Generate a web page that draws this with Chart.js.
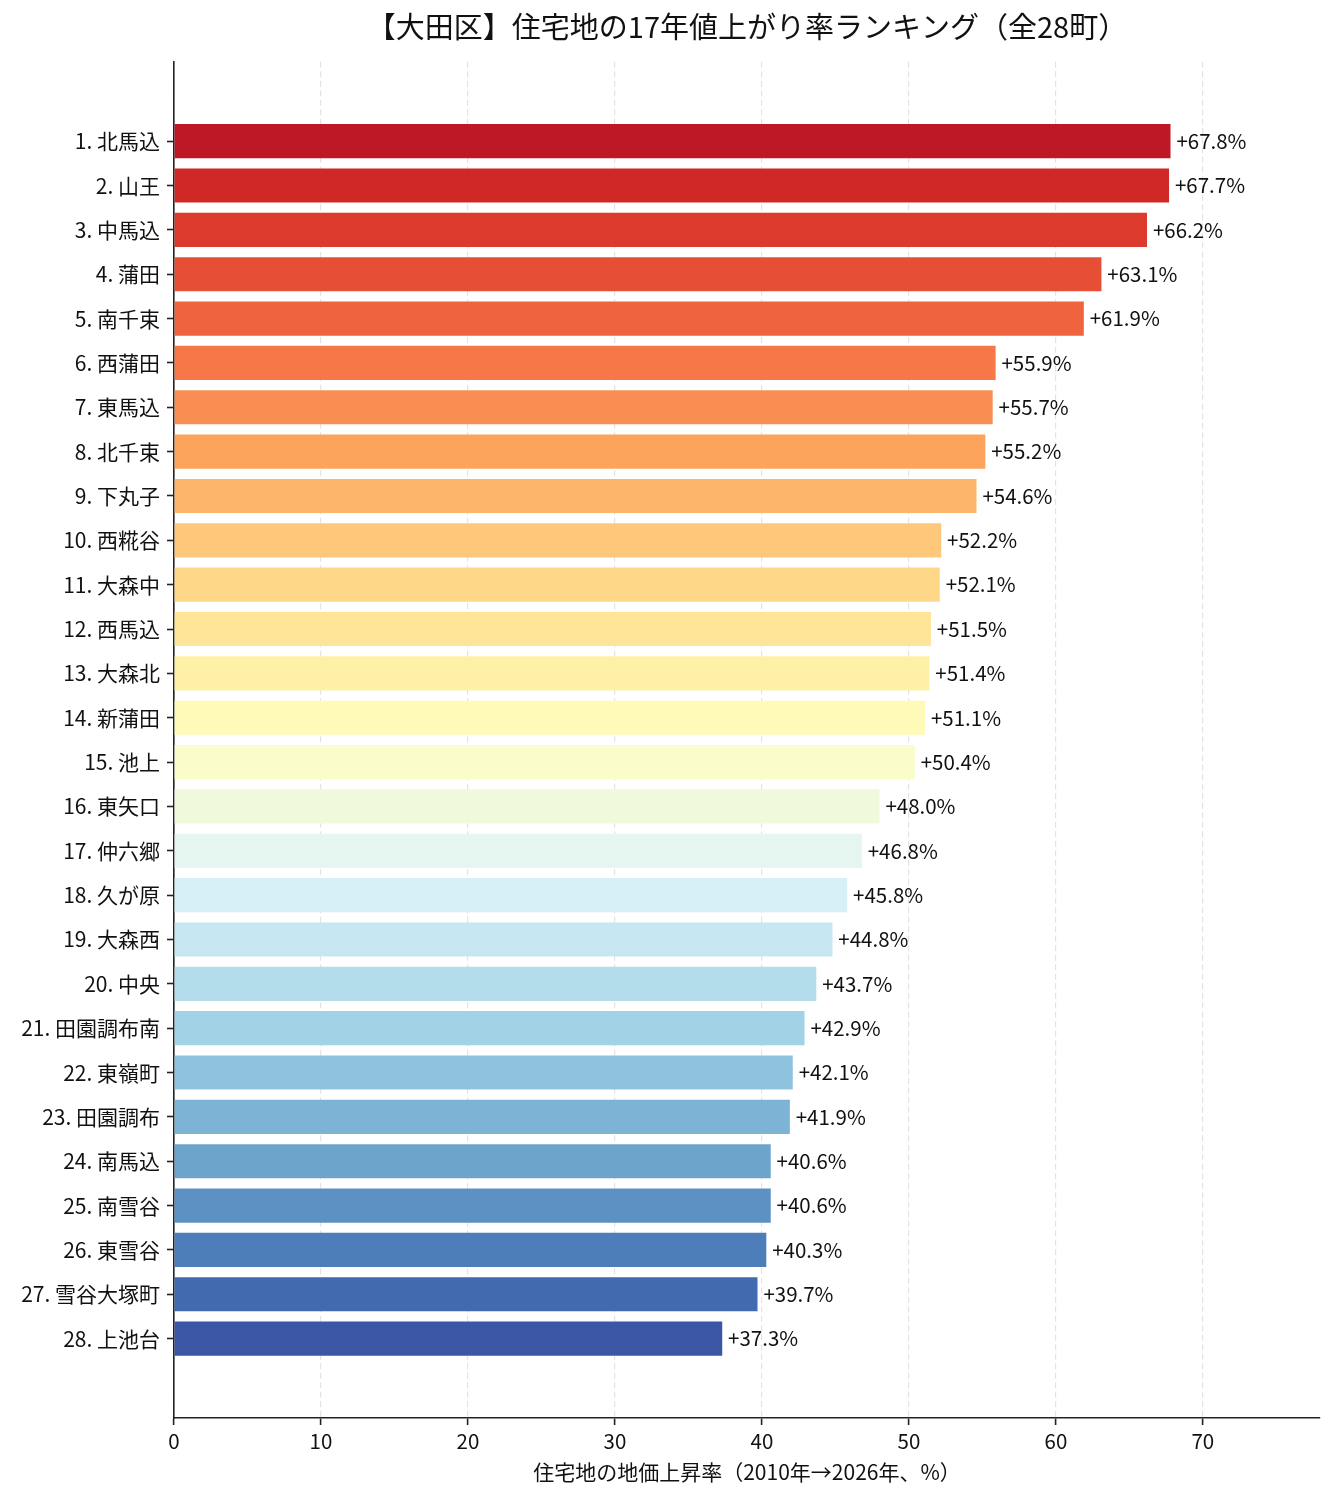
<!DOCTYPE html>
<html>
<head>
<meta charset="utf-8">
<script src="https://cdn.jsdelivr.net/npm/chart.js@4.4.1/dist/chart.umd.min.js"></script>
<style>
  html, body { margin: 0; padding: 0; background: #fff; }
</style>
</head>
<body>
<canvas id="chart" width="1335" height="1497"></canvas>
<script>
const towns = [
  "北馬込", "山王", "中馬込", "蒲田", "南千束", "西蒲田", "東馬込",
  "北千束", "下丸子", "西糀谷", "大森中", "西馬込", "大森北", "新蒲田",
  "池上", "東矢口", "仲六郷", "久が原", "大森西", "中央", "田園調布南",
  "東嶺町", "田園調布", "南馬込", "南雪谷", "東雪谷", "雪谷大塚町", "上池台",
];
const riseRates = [
  67.8, 67.7, 66.2, 63.1, 61.9, 55.9, 55.7, 55.2, 54.6, 52.2, 52.1, 51.5,
  51.4, 51.1, 50.4, 48.0, 46.8, 45.8, 44.8, 43.7, 42.9, 42.1, 41.9, 40.6,
  40.6, 40.3, 39.7, 37.3,
];
const xTicks = [0, 10, 20, 30, 40, 50, 60, 70];

const titleText = "【大田区】住宅地の17年値上がり率ランキング（全28町）";
const xTitleText = "住宅地の地価上昇率（2010年→2026年、%）";

// RdYlBu anchors, sampled per rank
const rdylbu = [
  [165, 0, 38], [215, 48, 39], [244, 109, 67], [253, 174, 97], [254, 224, 144],
  [255, 255, 191], [224, 243, 248], [171, 217, 233], [116, 173, 209],
  [69, 117, 180], [49, 54, 149],
];
function colorAt(t) {
  const pos = t * (rdylbu.length - 1);
  const i = Math.min(Math.floor(pos), rdylbu.length - 2);
  const f = pos - i;
  const c = rdylbu[i].map((v, k) => Math.round(v + (rdylbu[i + 1][k] - v) * f));
  return `rgb(${c[0]},${c[1]},${c[2]})`;
}
const barColors = towns.map((_, i) => colorAt(0.05 + 0.9 * i / (towns.length - 1)));

const FONT = '"Noto Sans CJK JP", "Noto Sans", sans-serif';
Chart.defaults.font.family = FONT;
Chart.defaults.color = "#111";

const valueLabels = {
  id: "valueLabels",
  afterDatasetsDraw(chart) {
    const { ctx, scales } = chart;
    const bars = chart.getDatasetMeta(0).data;
    ctx.save();
    ctx.font = `20.5px ${FONT}`;
    ctx.fillStyle = "#111";
    ctx.textAlign = "left";
    ctx.textBaseline = "middle";
    bars.forEach((bar, i) => {
      const v = riseRates[i];
      ctx.fillText(`+${v.toFixed(1)}%`, scales.x.getPixelForValue(v + 0.4), bar.y);
    });
    ctx.restore();
  },
};

new Chart(document.getElementById("chart"), {
  type: "bar",
  data: {
    datasets: [
      {
        data: riseRates.map((v, i) => ({ x: v, y: i })),
        backgroundColor: barColors,
        borderWidth: 0,
        barPercentage: 0.77,
        categoryPercentage: 1,
      },
    ],
  },
  options: {
    indexAxis: "y",
    responsive: false,
    animation: false,
    devicePixelRatio: 1,
    layout: { padding: { left: 0, right: 15, top: 0, bottom: 0 } },
    plugins: {
      legend: { display: false },
      tooltip: { enabled: false },
      title: {
        display: true,
        fullSize: false,
        text: titleText,
        color: "#111",
        font: { size: 29, weight: "normal" },
        padding: { top: 10, bottom: 17 },
      },
    },
    scales: {
      x: {
        type: "linear",
        min: 0,
        max: 77.97,
        afterBuildTicks: (scale) => {
          scale.ticks = xTicks.map((v) => ({ value: v }));
        },
        afterFit: (scale) => {
          scale.height = 79;
        },
        ticks: { font: { size: 20.5 }, color: "#111", padding: 4, maxRotation: 0 },
        grid: {
          color: "#e3e3e3",
          lineWidth: 1.2,
          drawTicks: true,
          tickLength: 7,
          tickColor: "#222",
          tickWidth: 1.6,
        },
        border: { color: "#222", width: 1.6, dash: [6, 3.5] },
        title: {
          display: true,
          text: xTitleText,
          color: "#111",
          font: { size: 21 },
          padding: { top: 4, bottom: 12 },
        },
      },
      y: {
        type: "linear",
        reverse: true,
        offset: false,
        min: -1.79,
        max: 28.79,
        afterBuildTicks: (scale) => {
          scale.ticks = towns.map((_, i) => ({ value: i }));
        },
        afterFit: (scale) => {
          scale.width = 174;
        },
        ticks: {
          autoSkip: false,
          font: { size: 21 },
          color: "#111",
          padding: 7,
          callback: (value) => `${value + 1}. ${towns[value]}`,
        },
        grid: {
          offset: false,
          drawOnChartArea: false,
          drawTicks: true,
          tickLength: 7,
          tickColor: "#222",
          tickWidth: 1.6,
        },
        border: { color: "#222", width: 1.6 },
      },
    },
  },
  plugins: [valueLabels],
});
</script>
</body>
</html>
